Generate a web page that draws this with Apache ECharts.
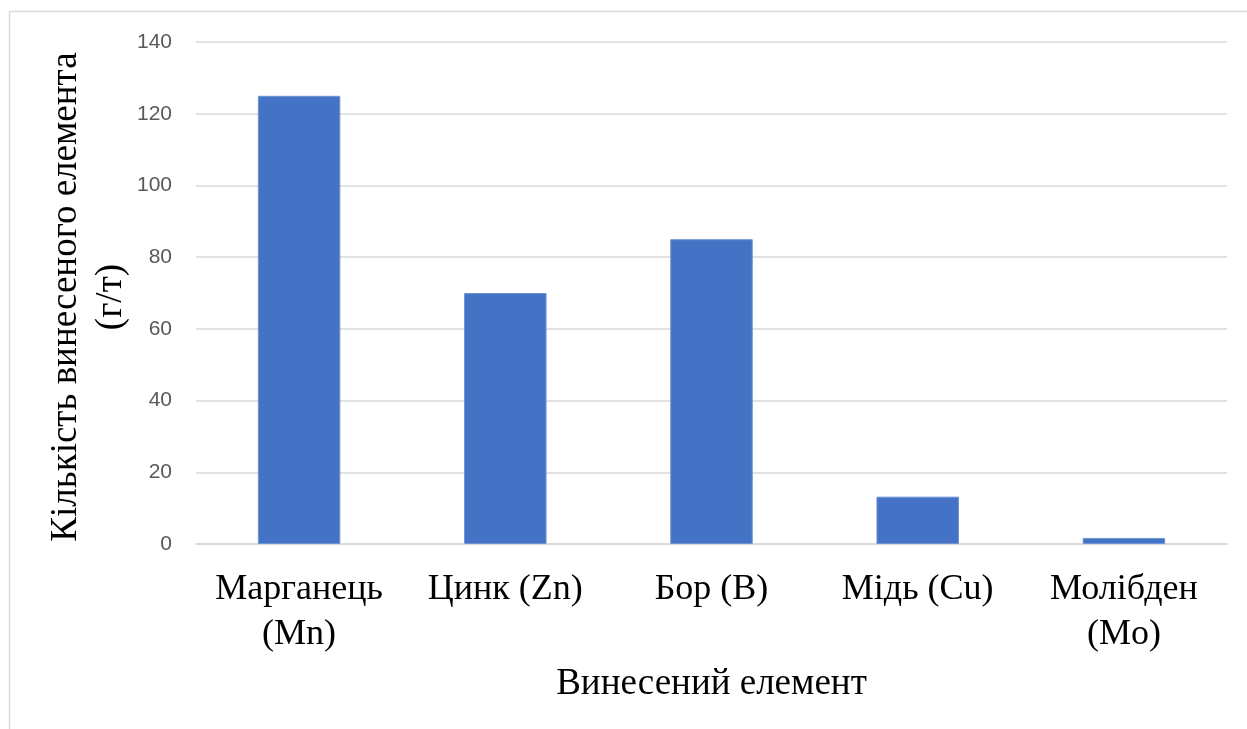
<!DOCTYPE html>
<html>
<head>
<meta charset="utf-8">
<script src="https://cdn.jsdelivr.net/npm/echarts@6/dist/echarts.min.js"></script>
<style>
  html, body { margin: 0; padding: 0; background: #fff; }
  #chart { width: 1247px; height: 729px; }
</style>
</head>
<body>
<div id="chart"></div>
<script>
// Microelement removal with the harvest, g/t
const categories = ['Марганець\n(Mn)', 'Цинк (Zn)', 'Бор (B)', 'Мідь (Cu)', 'Молібден\n(Mo)'];
const values = [125, 70, 85, 13.2, 1.7];
const yTicks = { min: 0, max: 140, interval: 20 };
const xTitle = 'Винесений елемент';
const yTitle = 'Кількість винесеного елемента\n(г/т)';

const chart = echarts.init(document.getElementById('chart'), null, { renderer: 'canvas' });

chart.setOption({
  animation: false,
  backgroundColor: '#ffffff',
  graphic: [{
    type: 'rect',
    shape: { x: 9.5, y: 11.5, width: 1260, height: 740 },
    style: { fill: 'none', stroke: '#d9d9d9', lineWidth: 1.5 },
    silent: true,
    z: -1
  }],
  grid: { left: 196, right: 20, top: 42, bottom: 185, containLabel: false },
  xAxis: {
    type: 'category',
    data: categories,
    name: xTitle,
    nameLocation: 'middle',
    nameGap: 122,
    nameMoveOverlap: false,
    nameTextStyle: { fontFamily: 'Liberation Serif', fontSize: 37, color: '#000' },
    axisLine: { show: true, lineStyle: { color: '#d9d9d9', width: 1.5 } },
    axisTick: { show: false },
    axisLabel: {
      fontFamily: 'Liberation Serif', fontSize: 36, color: '#000',
      lineHeight: 45, margin: 23, interval: 0
    }
  },
  yAxis: {
    type: 'value',
    min: yTicks.min, max: yTicks.max, interval: yTicks.interval,
    name: yTitle,
    nameLocation: 'middle',
    nameGap: 62,
    nameMoveOverlap: false,
    nameRotate: 90,
    nameTextStyle: {
      fontFamily: 'Liberation Serif', fontSize: 37, color: '#000',
      lineHeight: 45, padding: [0, 8, 0, 0]
    },
    axisLine: { show: false },
    axisTick: { show: false },
    splitLine: { lineStyle: { color: '#d9d9d9', width: 1.5 } },
    axisLabel: { fontFamily: 'Liberation Sans', fontSize: 21, color: '#595959', margin: 24 }
  },
  series: [{
    type: 'bar',
    data: values,
    barWidth: '40%',
    itemStyle: { color: '#4472c4', borderColor: '#6f93d4', borderWidth: 1 }
  }]
});
</script>
</body>
</html>
